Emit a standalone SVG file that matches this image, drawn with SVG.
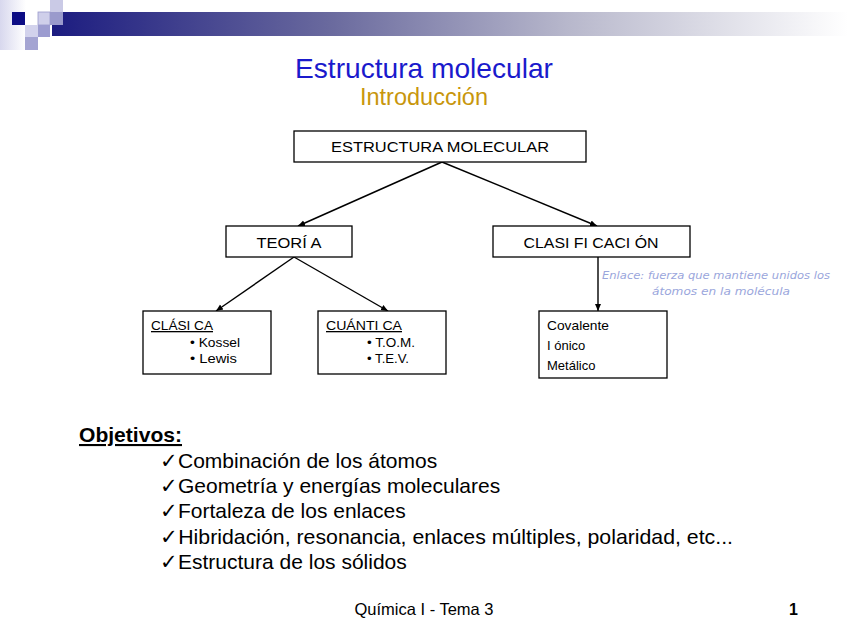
<svg xmlns="http://www.w3.org/2000/svg" width="848" height="636" viewBox="0 0 848 636">
<defs>
<linearGradient id="bar" x1="0" y1="0" x2="1" y2="0">
<stop offset="0" stop-color="#1c1c80"/>
<stop offset="0.35" stop-color="#6a6a9e"/>
<stop offset="0.65" stop-color="#b8b8cc"/>
<stop offset="1" stop-color="#ffffff"/>
</linearGradient>
<linearGradient id="strip" x1="0" y1="0" x2="1" y2="0">
<stop offset="0" stop-color="#d8d8ee"/>
<stop offset="1" stop-color="#ffffff"/>
</linearGradient>
<marker id="ah" markerWidth="8" markerHeight="8" refX="7" refY="4" orient="auto" markerUnits="userSpaceOnUse">
<path d="M0,1 L7,4 L0,7 z" fill="#000"/>
</marker>
<style>
.box{fill:#fff;stroke:#000;stroke-width:1.3}
.t{font-family:"Liberation Sans",Arial,sans-serif;fill:#000}
.c{stroke:#000;stroke-width:1.4;fill:none;marker-end:url(#ah)}
.hand{font-family:"DejaVu Sans",sans-serif;font-style:italic;fill:#9aa6dc;font-size:10px}
</style>
</defs>
<rect width="848" height="636" fill="#fff"/>
<g id="header">
<rect x="0" y="0" width="26" height="50" fill="url(#strip)"/>
<rect x="52" y="12" width="796" height="24" fill="url(#bar)"/>
<rect x="12" y="12" width="13" height="13" fill="#0c0c84"/>
<rect x="50" y="0" width="13" height="12" fill="#cacae6"/>
<rect x="38" y="12" width="12" height="13" fill="#cfcfea" stroke="#9a9acc" stroke-width="0.8"/>
<rect x="50" y="12" width="13" height="13" fill="#9a9acc"/>
<rect x="25" y="25" width="13" height="12" fill="#d2d2ec"/>
<rect x="38" y="25" width="12" height="12" fill="#9c9cd0"/>
<rect x="25" y="37" width="13" height="13" fill="#a4a4d2"/>
</g>
<g id="title">
<text class="t" x="424" y="78" text-anchor="middle" font-size="28" style="fill:#1a1acc" textLength="258" lengthAdjust="spacingAndGlyphs">Estructura molecular</text>
<text class="t" x="424" y="105" text-anchor="middle" font-size="23" style="fill:#c8960c" textLength="128" lengthAdjust="spacingAndGlyphs">Introducción</text>
</g>
<g id="connectors">
<line class="c" x1="442" y1="162" x2="298" y2="226"/>
<line class="c" x1="442" y1="162" x2="597" y2="226"/>
<line class="c" x1="294" y1="257" x2="216" y2="311"/>
<line class="c" x1="294" y1="257" x2="388" y2="311"/>
<line class="c" x1="598" y1="257" x2="598" y2="311"/>
</g>
<g id="estructura">
<rect class="box" x="294" y="131" width="292" height="31"/>
<text class="t" x="440" y="152" text-anchor="middle" font-size="15" textLength="218" lengthAdjust="spacingAndGlyphs">ESTRUCTURA MOLECULAR</text>
</g>
<g id="teoria">
<rect class="box" x="226" y="226" width="126" height="31"/>
<text class="t" x="289" y="248" text-anchor="middle" font-size="15" textLength="65" lengthAdjust="spacingAndGlyphs">TEORÍ A</text>
</g>
<g id="clasificacion">
<rect class="box" x="493" y="226" width="197" height="31"/>
<text class="t" x="591" y="248" text-anchor="middle" font-size="15" textLength="135" lengthAdjust="spacingAndGlyphs">CLASI FI CACI ÓN</text>
</g>
<g id="clasica">
<rect class="box" x="143" y="311" width="128" height="63"/>
<text class="t" x="151" y="330" font-size="13" text-decoration="underline" textLength="62" lengthAdjust="spacingAndGlyphs">CLÁSI CA</text>
<text class="t" x="190" y="347" font-size="13" textLength="50" lengthAdjust="spacingAndGlyphs">• Kossel</text>
<text class="t" x="190" y="363" font-size="13" textLength="47" lengthAdjust="spacingAndGlyphs">• Lewis</text>
</g>
<g id="cuantica">
<rect class="box" x="318" y="311" width="128" height="63"/>
<text class="t" x="326" y="330" font-size="13" text-decoration="underline" textLength="76" lengthAdjust="spacingAndGlyphs">CUÁNTI CA</text>
<text class="t" x="367" y="347" font-size="13" textLength="48" lengthAdjust="spacingAndGlyphs">• T.O.M.</text>
<text class="t" x="367" y="363" font-size="13" textLength="42" lengthAdjust="spacingAndGlyphs">• T.E.V.</text>
</g>
<g id="tipos">
<rect class="box" x="539" y="311" width="128" height="67"/>
<text class="t" x="547" y="330" font-size="13" textLength="62" lengthAdjust="spacingAndGlyphs">Covalente</text>
<text class="t" x="547" y="350" font-size="13">I ónico</text>
<text class="t" x="547" y="370" font-size="13">Metálico</text>
</g>
<g id="nota">
<text class="hand" x="602" y="279" textLength="228" lengthAdjust="spacingAndGlyphs">Enlace: fuerza que mantiene unidos los</text>
<text class="hand" x="652" y="295" textLength="138" lengthAdjust="spacingAndGlyphs">átomos en la molécula</text>
</g>
<g id="objetivos">
<text class="t" x="79" y="442" font-size="21" font-weight="bold" text-decoration="underline" textLength="103" lengthAdjust="spacingAndGlyphs">Objetivos:</text>
<text class="t" x="160" y="468" font-size="21">✓Combinación de los átomos</text>
<text class="t" x="160" y="493" font-size="21">✓Geometría y energías moleculares</text>
<text class="t" x="160" y="518" font-size="21">✓Fortaleza de los enlaces</text>
<text class="t" x="160" y="544" font-size="21" textLength="573" lengthAdjust="spacingAndGlyphs">✓Hibridación, resonancia, enlaces múltiples, polaridad, etc...</text>
<text class="t" x="160" y="569" font-size="21">✓Estructura de los sólidos</text>
</g>
<g id="footer">
<text class="t" x="424" y="615" text-anchor="middle" font-size="16.5">Química I - Tema 3</text>
<text class="t" x="789" y="615" font-size="16" font-weight="bold">1</text>
</g>
</svg>
